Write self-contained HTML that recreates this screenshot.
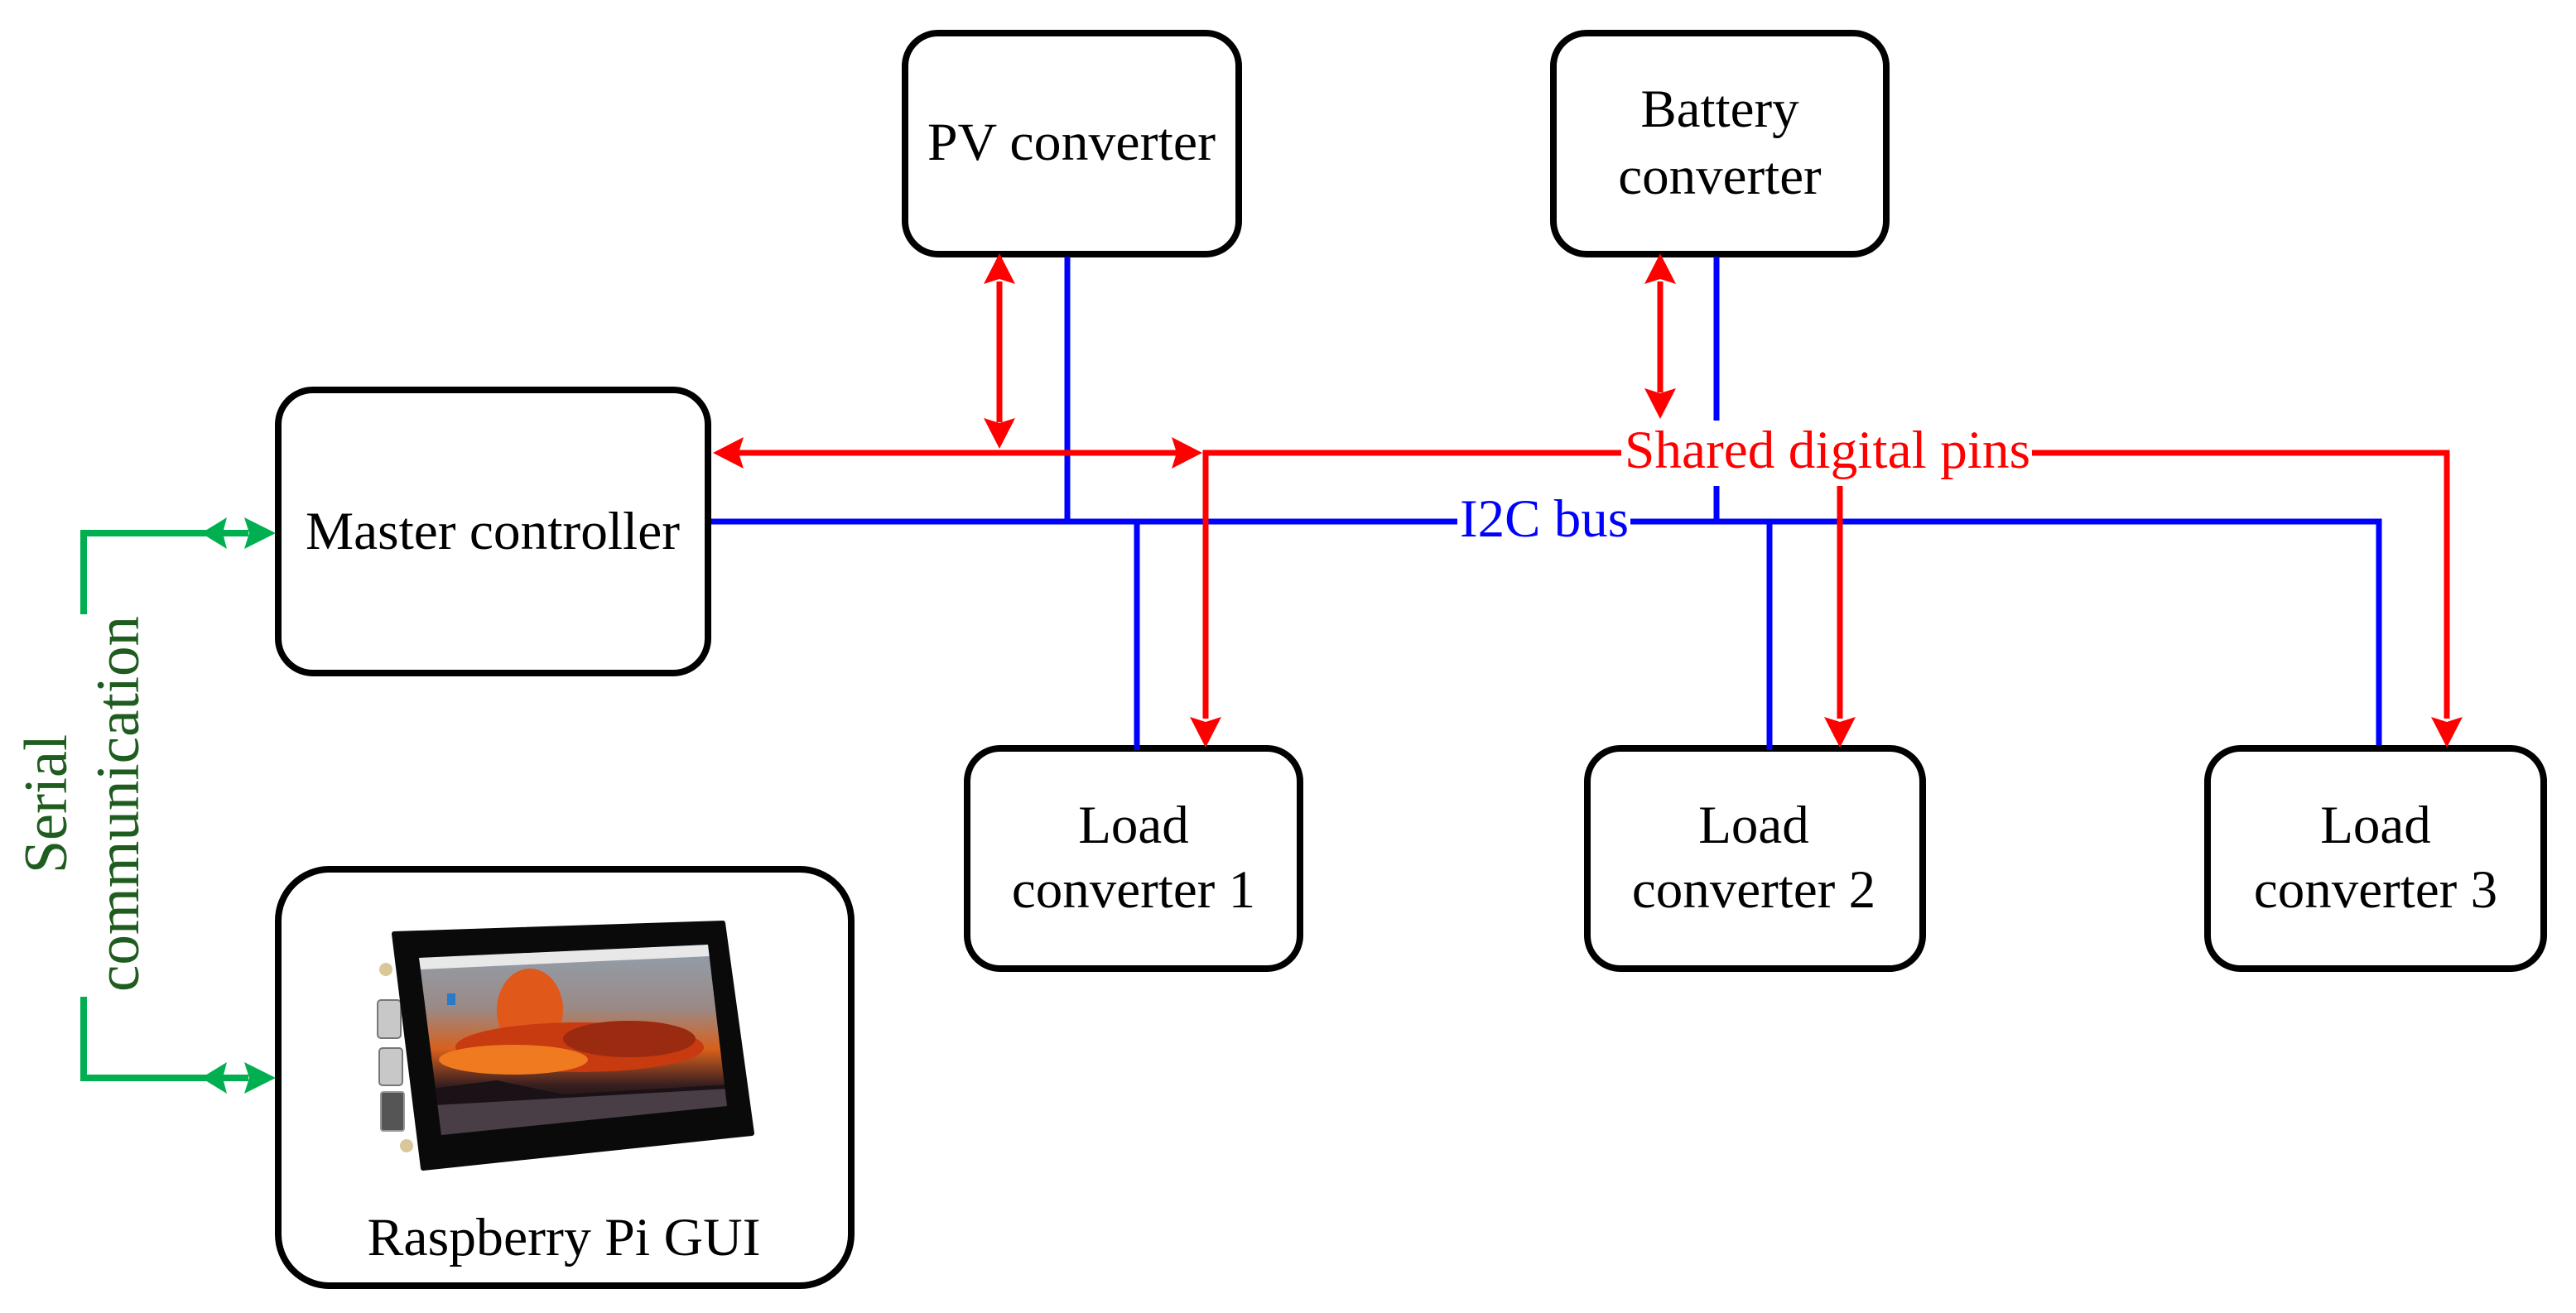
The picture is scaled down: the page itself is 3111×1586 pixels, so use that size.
<!DOCTYPE html>
<html><head><meta charset="utf-8"><style>
html,body{margin:0;padding:0;background:#fff;}
svg{display:block;}
text{font-family:"Liberation Serif",serif;}
</style></head><body>
<svg width="3111" height="1586" viewBox="0 0 3111 1586" xmlns="http://www.w3.org/2000/svg">
<defs>
<linearGradient id="sky" x1="0" y1="0" x2="0" y2="1">
<stop offset="0" stop-color="#8fa3b3"/>
<stop offset="0.35" stop-color="#9a8a86"/>
<stop offset="0.55" stop-color="#d8601c"/>
<stop offset="0.72" stop-color="#3a2020"/>
<stop offset="0.8" stop-color="#1a1414"/>
<stop offset="1" stop-color="#5a4a4a"/>
</linearGradient>
<clipPath id="scr"><polygon points="506,1157 855,1141 878,1336 533,1371"/></clipPath>
</defs>

<!-- boxes -->
<g fill="#fff" stroke="#000" stroke-width="8">
<rect x="1093" y="40" width="403" height="267" rx="40"/>
<rect x="1876" y="40" width="402" height="267" rx="40"/>
<rect x="336" y="471" width="519" height="342" rx="42"/>
<rect x="1168" y="904" width="402" height="266" rx="40"/>
<rect x="1917" y="904" width="405" height="266" rx="40"/>
<rect x="2666" y="904" width="406" height="266" rx="40"/>
<rect x="336" y="1050" width="692" height="503" rx="62"/>
</g>

<!-- blue I2C -->
<g stroke="#0000ff" stroke-width="7" fill="none">
<polyline points="859,630 1760,630"/>
<polyline points="1969,630 2873,630 2873,900"/>
<line x1="1289" y1="310" x2="1289" y2="630"/>
<line x1="1373" y1="630" x2="1373" y2="906"/>
<line x1="2073" y1="310" x2="2073" y2="508"/>
<line x1="2073" y1="587" x2="2073" y2="630"/>
<line x1="2137" y1="630" x2="2137" y2="906"/>
</g>

<!-- red lines -->
<g stroke="#ff0000" stroke-width="7" fill="none">
<line x1="885" y1="547" x2="1425" y2="547"/>
<polyline points="1456,868 1456,547 1958,547"/>
<polyline points="2454,547 2955,547 2955,868"/>
<line x1="1207" y1="340" x2="1207" y2="510"/>
<line x1="2005" y1="340" x2="2005" y2="474"/>
<line x1="2222" y1="587" x2="2222" y2="868"/>
</g>
<g fill="#ff0000">
<!-- left arrow at master -->
<polygon points="861,547 898,528 892,547 898,566"/>
<!-- right arrow into corner -->
<polygon points="1452,547 1415,528 1421,547 1415,566"/>
<!-- PV vertical -->
<polygon points="1207,306 1188,343 1207,337 1226,343"/>
<polygon points="1207,542 1188,505 1207,511 1226,505"/>
<!-- Battery vertical -->
<polygon points="2005,306 1986,343 2005,337 2024,343"/>
<polygon points="2005,506 1986,469 2005,475 2024,469"/>
<!-- down arrows to loads -->
<polygon points="1456,903 1437,866 1456,872 1475,866"/>
<polygon points="2222,903 2203,866 2222,872 2241,866"/>
<polygon points="2955,903 2936,866 2955,872 2974,866"/>
</g>

<!-- green -->
<g stroke="#00b050" stroke-width="8" fill="none">
<polyline points="101,742 101,644 300,644"/>
<polyline points="101,1204 101,1302 300,1302"/>
</g>
<g fill="#00b050">
<polygon points="243,644 274,625 269,644 274,663"/>
<polygon points="333,644 295,625 301,644 295,663"/>
<polygon points="243,1302 274,1283 269,1302 274,1321"/>
<polygon points="333,1302 295,1283 301,1302 295,1321"/>
</g>

<!-- texts -->
<g font-size="65" fill="#000" text-anchor="middle">
<text x="1294" y="193" textLength="348" lengthAdjust="spacingAndGlyphs">PV converter</text>
<text x="2077" y="153">Battery</text>
<text x="2077" y="234">converter</text>
<text x="595" y="663" textLength="452" lengthAdjust="spacingAndGlyphs">Master controller</text>
<text x="1369" y="1018">Load</text>
<text x="1369" y="1096">converter 1</text>
<text x="2118" y="1018">Load</text>
<text x="2118" y="1096">converter 2</text>
<text x="2869" y="1018">Load</text>
<text x="2869" y="1096">converter 3</text>
<text x="681" y="1516" textLength="475" lengthAdjust="spacingAndGlyphs">Raspberry Pi GUI</text>
</g>
<text x="2207" y="565" font-size="65" fill="#ff0000" text-anchor="middle" textLength="490" lengthAdjust="spacingAndGlyphs">Shared digital pins</text>
<text x="1865" y="648" font-size="65" fill="#0000ff" text-anchor="middle" textLength="204" lengthAdjust="spacingAndGlyphs">I2C bus</text>
<g fill="#1f5c1f" font-size="74" text-anchor="middle">
<text transform="translate(80,971) rotate(-90)" textLength="168" lengthAdjust="spacingAndGlyphs">Serial</text>
<text transform="translate(167,971) rotate(-90)" textLength="454" lengthAdjust="spacingAndGlyphs">communication</text>
</g>

<!-- tablet -->
<g>
<circle cx="466" cy="1171" r="8" fill="#d9c79a"/>
<circle cx="491" cy="1384" r="8" fill="#d9c79a"/>
<rect x="456" y="1208" width="28" height="46" rx="4" fill="#c8c8c8" stroke="#777" stroke-width="2"/>
<rect x="458" y="1266" width="28" height="45" rx="4" fill="#c8c8c8" stroke="#777" stroke-width="2"/>
<rect x="460" y="1319" width="28" height="47" rx="3" fill="#555" stroke="#999" stroke-width="2"/>
<polygon points="476,1128 873,1115 908,1369 511,1411" fill="#0a0a0a" stroke="#0a0a0a" stroke-width="6" stroke-linejoin="round"/>
<g clip-path="url(#scr)">
<rect x="500" y="1130" width="390" height="250" fill="url(#sky)"/>
<ellipse cx="640" cy="1220" rx="40" ry="50" fill="#e0581a"/>
<ellipse cx="700" cy="1265" rx="150" ry="30" fill="#c83a10"/>
<ellipse cx="620" cy="1280" rx="90" ry="18" fill="#f07a20"/>
<ellipse cx="760" cy="1255" rx="80" ry="22" fill="#9a2a10"/>
<polygon points="520,1315 600,1305 680,1322 880,1310 890,1380 520,1380" fill="#1a1216"/>
<polygon points="525,1335 880,1315 890,1380 525,1380" fill="#4a3e46"/>
<polygon points="506,1157 855,1141 857,1155 508,1171" fill="#e8e8e8"/>
<rect x="540" y="1200" width="10" height="14" fill="#2a7ac8"/>
</g>
</g>
</svg>
</body></html>
